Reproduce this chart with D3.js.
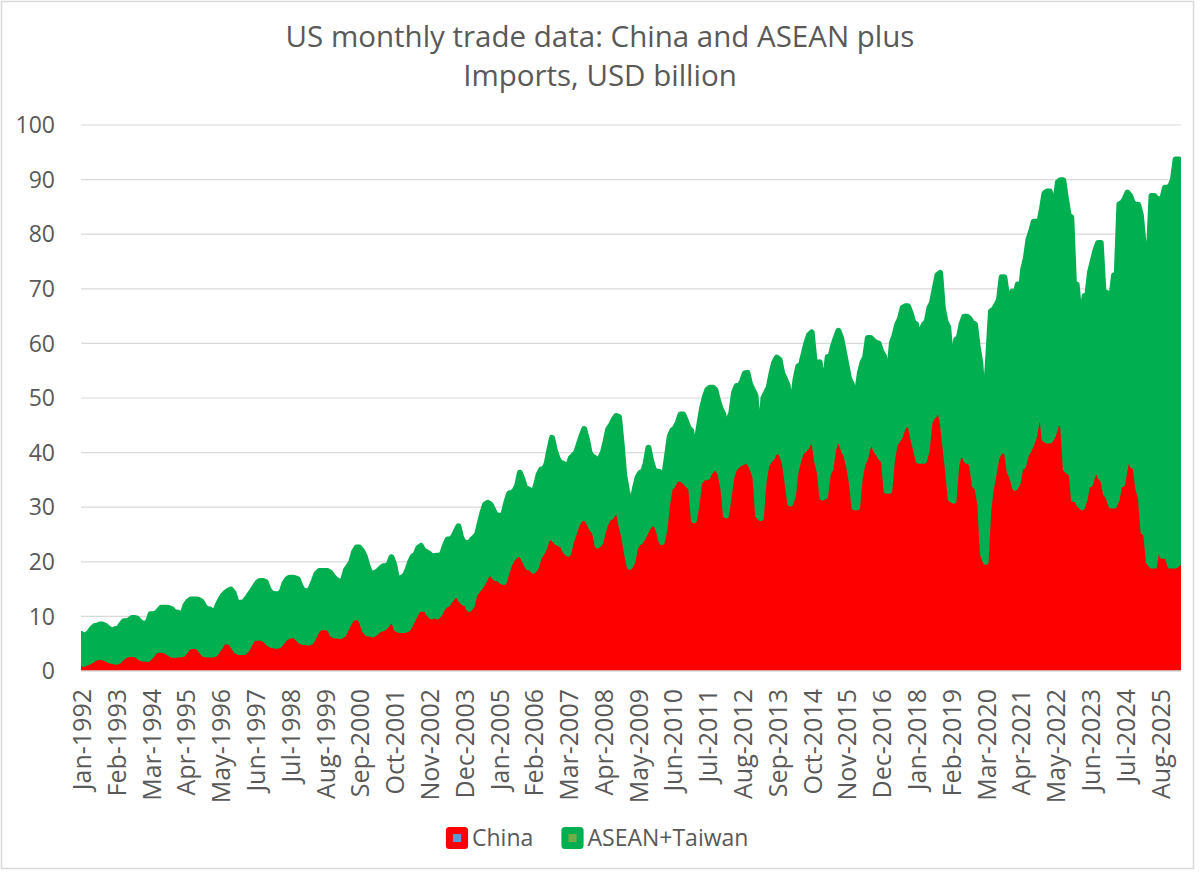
<!DOCTYPE html>
<html>
<head>
<meta charset="utf-8">
<script src="https://cdn.jsdelivr.net/npm/d3@7"></script>
<style>
  html, body { margin: 0; padding: 0; background: #fff; }
  svg { display: block; font-family: "Open Sans", sans-serif; }
</style>
</head>
<body>
<svg id="chart" width="1200" height="872"></svg>
<script>
// US imports, USD billion, one row per year (Jan..Dec)
const china = [
  1.7,1.3,1.5,1.7,2.0,2.3,2.5,2.6,2.5,2.4,2.1,1.9,          // 1992
  1.8,1.7,1.8,2.3,2.7,3.0,3.1,3.1,3.1,2.9,2.5,2.3,          // 1993
  2.3,2.2,2.7,3.3,3.8,3.9,3.9,3.8,3.6,3.3,3.0,2.9,          // 1994
  3.0,3.0,3.1,3.7,4.4,4.6,4.6,4.6,4.3,3.7,3.1,3.0,          // 1995
  3.0,3.0,3.1,3.8,4.5,5.3,5.4,5.4,5.2,4.5,3.7,3.5,          // 1996
  3.5,3.5,4.0,5.0,5.8,6.1,6.1,6.1,6.0,5.7,5.1,4.8,          // 1997
  4.7,4.6,4.7,5.3,5.9,6.3,6.5,6.6,6.5,6.0,5.5,5.3,          // 1998
  5.3,5.2,5.4,6.3,7.3,7.9,8.0,8.0,8.0,7.7,6.7,6.5,          // 1999
  6.5,6.4,6.7,7.7,8.7,9.5,9.8,9.9,9.8,9.0,7.5,6.9,          // 2000
  6.8,6.7,7.0,7.5,7.7,7.9,8.3,9.0,9.8,9.0,7.7,7.5,          // 2001
  7.5,7.5,7.7,8.5,9.5,10.5,11.3,11.4,11.4,11.3,10.5,10.0,   // 2002
  10.4,10.0,10.5,11.5,12.0,12.3,13.0,13.7,14.0,14.0,13.0,12.5, // 2003
  12.5,11.4,12.0,14.0,14.7,15.3,16.0,17.0,17.9,18.1,17.5,17.0, // 2004
  17.0,16.5,16.3,18.0,19.5,20.5,21.0,21.4,21.5,21.0,20.0,19.0, // 2005
  19.0,18.4,19.0,20.8,21.5,22.5,24.0,24.5,24.7,24.0,23.5,23.3, // 2006
  23.0,22.0,21.5,23.5,25.0,26.5,27.5,28.0,28.0,27.9,27.0,26.0, // 2007
  25.5,23.0,23.5,25.5,27.0,28.0,28.2,29.0,29.5,29.0,26.5,24.5, // 2008
  21.5,19.1,20.0,22.5,23.5,23.7,24.5,25.5,26.5,27.0,27.0,26.8, // 2009
  25.5,23.6,26.0,30.5,33.5,34.0,35.0,35.2,35.2,35.0,34.5,34.0, // 2010
  33.5,27.6,30.5,34.5,35.2,35.5,35.5,36.5,37.0,37.3,37.0,36.0, // 2011
  33.5,28.5,32.0,35.5,37.0,37.5,38.0,38.2,38.5,38.5,38.0,37.0, // 2012
  35.5,28.5,28.0,34.5,37.5,38.5,39.0,40.0,40.3,40.5,39.5,38.0, // 2013
  34.5,30.7,32.0,36.5,38.5,40.0,40.5,41.0,42.0,42.5,42.0,38.5, // 2014
  36.5,31.8,32.0,36.0,37.0,40.5,42.0,42.2,42.0,40.5,39.5,37.5, // 2015
  34.5,30.0,30.0,35.5,37.9,39.0,41.0,42.2,42.0,40.5,39.8,39.0, // 2016
  38.5,33.0,33.0,38.5,41.5,42.2,43.0,44.5,45.2,45.2,45.0,42.5, // 2017
  40.5,38.5,38.5,38.5,40.5,45.5,46.5,47.0,47.7,47.7,45.5,41.0, // 2018
  36.5,31.5,31.2,37.5,39.8,39.8,39.5,38.5,39.0,37.5,34.0,33.5, // 2019
  30.5,21.5,20.0,29.5,33.5,36.1,39.0,40.0,40.4,40.5,40.0,36.5, // 2020
  35.5,33.6,34.5,37.3,37.5,39.5,40.4,41.5,42.8,45.5,47.7,47.5, // 2021
  42.5,42.2,42.2,43.0,44.5,46.5,46.5,44.5,37.0,36.5,37.0,31.5, // 2022
  31.5,30.5,30.0,31.5,34.2,34.2,36.0,36.7,36.7,35.5,34.9,32.5, // 2023
  31.8,30.3,30.3,31.5,34.2,34.2,37.0,39.8,39.0,37.6,37.6,33.5, // 2024
  31.8,25.5,25.1,20.0,19.3,19.3,23.3,23.3,21.1,21.1,21.1,19.3, // 2025
  19.3,19.3,19.9,19.9                                          // 2026
];

const asean = [
  5.1,5.2,5.1,5.3,5.7,5.9,5.8,5.9,6.0,5.9,5.8,5.6,          // 1992
  5.7,6.0,5.9,6.2,6.4,6.1,6.2,6.6,6.6,6.7,6.5,6.4,          // 1993
  6.4,6.7,7.7,7.1,6.7,7.1,7.7,7.8,8.0,8.2,8.3,7.8,          // 1994
  7.7,7.5,7.3,8.3,8.3,8.5,8.5,8.5,8.7,9.0,8.8,8.3,          // 1995
  8.3,8.0,7.6,8.2,8.5,8.5,8.9,9.3,9.7,9.8,9.0,9.0,          // 1996
  9.0,9.2,9.3,9.0,8.9,9.4,10.1,10.4,10.5,10.6,9.9,9.5,      // 1997
  9.4,9.4,9.4,9.2,10.1,10.5,10.6,10.5,10.5,10.8,10.0,9.4,   // 1998
  9.3,9.3,9.9,10.2,10.5,10.4,10.3,10.3,10.3,10.4,10.7,10.3, // 1999
  10.0,9.9,10.0,10.8,10.5,10.5,12.0,12.7,12.8,13.0,13.5,12.4, // 2000
  11.2,11.1,11.0,10.8,11.1,11.3,10.9,10.5,11.0,10.5,9.3,9.4,  // 2001
  9.6,10.0,10.8,11.5,11.5,10.8,11.2,11.5,10.6,10.5,11.0,11.0, // 2002
  10.6,11.1,10.6,10.0,11.0,11.8,11.1,10.8,11.5,12.5,11.5,11.0, // 2003
  11.0,11.9,12.0,10.5,10.3,11.7,13.0,13.5,12.9,12.4,12.0,11.5, // 2004
  11.5,11.5,12.7,13.0,13.0,12.1,12.0,12.6,14.8,14.0,13.5,14.3, // 2005
  14.0,14.1,15.0,15.2,15.4,14.5,14.0,16.0,18.0,16.5,15.5,14.8, // 2006
  15.0,15.7,16.0,15.5,14.5,13.5,14.0,15.0,16.3,14.6,13.0,13.3, // 2007
  13.5,15.5,15.5,14.5,15.0,16.3,16.8,17.0,17.2,17.5,15.0,11.2, // 2008
  11.5,11.7,11.0,11.0,12.0,12.6,12.0,12.5,14.4,11.5,9.9,9.7,   // 2009
  11.0,11.4,10.0,9.0,9.5,10.1,9.5,10.3,11.8,12.0,11.3,10.5,    // 2010
  10.5,12.0,11.5,10.5,12.8,14.5,16.0,15.4,14.9,14.2,12.5,12.0, // 2011
  13.5,14.5,14.0,11.8,14.0,14.7,14.2,14.8,16.0,16.1,14.5,14.5, // 2012
  15.0,16.0,15.5,15.5,13.5,13.5,15.5,16.5,17.1,16.5,15.0,15.5, // 2013
  17.8,18.0,17.5,17.0,17.3,16.0,17.5,19.0,19.5,19.5,15.1,17.5, // 2014
  20.0,20.5,21.0,21.5,20.5,19.0,19.0,20.1,19.0,18.0,16.5,16.0, // 2015
  18.0,19.5,21.0,19.0,18.6,18.5,20.0,18.8,18.5,19.6,20.2,19.5, // 2016
  19.2,21.0,22.0,21.6,20.0,21.3,21.5,22.0,21.6,21.6,20.5,21.3, // 2017
  23.0,18.6,24.0,25.0,23.5,21.0,21.0,23.0,24.8,25.2,21.0,23.0, // 2018
  26.5,26.0,23.8,23.2,21.2,23.7,25.4,26.4,25.5,26.2,29.5,26.0, // 2019
  26.0,28.0,30.0,28.0,32.4,30.1,28.0,28.0,31.7,31.6,28.7,31.6, // 2020
  34.0,35.0,36.3,31.2,36.0,36.0,38.6,39.0,39.5,36.8,34.3,37.0, // 2021
  45.0,45.6,45.6,42.7,41.2,43.0,43.4,45.4,49.5,47.0,46.1,39.3, // 2022
  39.3,35.0,35.0,37.2,34.5,38.8,39.0,40.3,41.7,42.9,34.6,36.8, // 2023
  37.2,38.2,42.2,41.0,51.3,51.5,49.5,47.8,48.0,48.1,47.8,51.9, // 2024
  51.7,52.8,53.2,56.3,67.7,67.7,63.1,63.1,65.3,67.4,67.4,69.5, // 2025
  70.7,74.4,73.8,73.6                                          // 2026
];

const monthNames = ["Jan","Feb","Mar","Apr","May","Jun","Jul","Aug","Sep","Oct","Nov","Dec"];
const months = [];
for (let k = 0; k < china.length; k++) {
  months.push(monthNames[k % 12] + "-" + (1992 + Math.floor(k / 12)));
}

const tickLabels = ["Jan-1992","Feb-1993","Mar-1994","Apr-1995","May-1996","Jun-1997","Jul-1998",
  "Aug-1999","Sep-2000","Oct-2001","Nov-2002","Dec-2003","Jan-2005","Feb-2006","Mar-2007",
  "Apr-2008","May-2009","Jun-2010","Jul-2011","Aug-2012","Sep-2013","Oct-2014","Nov-2015",
  "Dec-2016","Jan-2018","Feb-2019","Mar-2020","Apr-2021","May-2022","Jun-2023","Jul-2024","Aug-2025"];
const yTicks = [0,10,20,30,40,50,60,70,80,90,100];

const seriesNames = ["China", "ASEAN+Taiwan"];
const seriesColors = ["#FF0000", "#00B050"];
const legendInner = ["#5B9BD5", "#70AD47"];

const rows = months.map((m, k) => ({ month: m, china: china[k], asean: asean[k] }));

var svg = d3.select("#chart");
var plot = { left: 81, right: 1181, top: 125, bottom: 671 };

svg.append("rect")
  .attr("x", 1.5).attr("y", 1.5)
  .attr("width", 1192).attr("height", 867)
  .attr("fill", "#fff")
  .attr("stroke", "#d9d9d9").attr("stroke-width", 1.5);

var x = d3.scalePoint().domain(months).range([plot.left, plot.right]);
var y = d3.scaleLinear().domain([0, 100]).range([plot.bottom, plot.top]);

// gridlines
svg.append("g")
  .selectAll("line")
  .data(yTicks.filter(d => d > 0))
  .join("line")
  .attr("x1", plot.left).attr("x2", plot.right)
  .attr("y1", d => y(d)).attr("y2", d => y(d))
  .attr("stroke", "#d9d9d9").attr("stroke-width", 1.2);

svg.append("clipPath").attr("id", "plotclip")
  .append("rect")
  .attr("x", plot.left).attr("y", 0)
  .attr("width", plot.right - plot.left).attr("height", plot.bottom);

var stacked = d3.stack().keys(["china", "asean"])(rows);

var area = d3.area()
  .x(d => x(d.data.month))
  .y0(d => y(d[0]))
  .y1(d => y(d[1]));

var areas = svg.append("g").attr("clip-path", "url(#plotclip)");

areas.append("path")
  .datum(stacked[0])
  .attr("d", area)
  .attr("fill", seriesColors[0]);

// thick border on the upper series, as in the original
areas.append("path")
  .datum(stacked[1])
  .attr("d", area)
  .attr("fill", seriesColors[1])
  .attr("stroke", seriesColors[1])
  .attr("stroke-width", 6)
  .attr("stroke-linejoin", "round");

// x axis line
svg.append("line")
  .attr("x1", plot.left).attr("x2", plot.right)
  .attr("y1", y(0)).attr("y2", y(0))
  .attr("stroke", "#d9d9d9").attr("stroke-width", 1.5);

// y labels
svg.append("g")
  .selectAll("text")
  .data(yTicks)
  .join("text")
  .attr("x", 55)
  .attr("y", d => y(d))
  .attr("dy", "0.36em")
  .attr("text-anchor", "end")
  .attr("font-size", 23)
  .attr("fill", "#595959")
  .text(d => d);

// x labels
svg.append("g")
  .selectAll("text")
  .data(tickLabels)
  .join("text")
  .attr("transform", d => `translate(${x(d) + 1},689) rotate(-90)`)
  .attr("dy", "0.36em")
  .attr("text-anchor", "end")
  .attr("font-size", 25)
  .attr("fill", "#595959")
  .text(d => d);

// title
svg.append("text")
  .attr("x", 600).attr("y", 47)
  .attr("text-anchor", "middle")
  .attr("font-size", 29.5)
  .attr("fill", "#595959")
  .text("US monthly trade data: China and ASEAN plus");
svg.append("text")
  .attr("x", 600).attr("y", 86)
  .attr("text-anchor", "middle")
  .attr("font-size", 29.5)
  .attr("fill", "#595959")
  .text("Imports, USD billion");

// legend
var legendX = [457, 572.5];
var legend = svg.append("g")
  .selectAll("g")
  .data(seriesNames)
  .join("g")
  .attr("transform", (d, k) => `translate(${legendX[k]},838)`);

legend.append("rect")
  .attr("x", -7.6).attr("y", -7.6)
  .attr("width", 15.2).attr("height", 15.2)
  .attr("fill", (d, k) => legendInner[k])
  .attr("stroke", (d, k) => seriesColors[k])
  .attr("stroke-width", 7)
  .attr("stroke-linejoin", "round");

legend.append("text")
  .attr("x", 15)
  .attr("dy", "0.36em")
  .attr("font-size", 23)
  .attr("fill", "#595959")
  .text(d => d);
</script>
</body>
</html>
